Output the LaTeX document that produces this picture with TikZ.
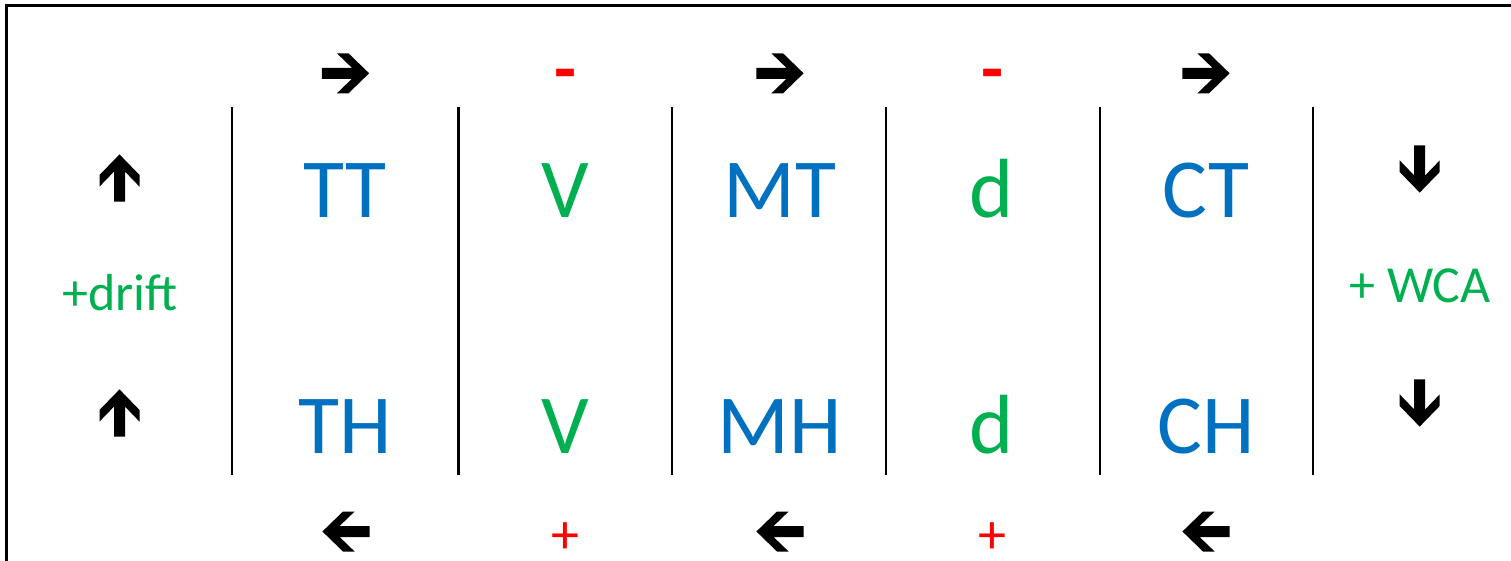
\documentclass[tikz,border=0pt]{standalone}
\usepackage{fontspec}
\setmainfont{Carlito}
\definecolor{cblue}{HTML}{0070C0}
\definecolor{cgreen}{HTML}{00B050}
\definecolor{cred}{HTML}{FF0000}
\tikzset{
  big/.style={anchor=base, inner sep=0pt, font=\fontsize{84}{84}\selectfont},
  mid/.style={anchor=base, inner sep=0pt, text=cgreen, font=\fontsize{52}{52}\selectfont},
  sign/.style={anchor=base, inner sep=0pt, text depth=0pt, text=cred},
  sep/.style={line width=2.3pt, black},
  frame/.style={line width=2.8pt, black},
  barrow/.pic={\fill[black] (-23.6,-5.5) -- (6.4,-5.5) -- (-8.6,-20) -- (3,-20) -- (23.6,0) -- (3,20) -- (-8.6,20) -- (6.4,5.5) -- (-23.6,5.5) -- cycle;}
}
\begin{document}
\begin{tikzpicture}[x=1pt,y=-1pt]
\useasboundingbox (0,0) rectangle (1511,561);
% frame
\coordinate (fbl) at (6.2,575);
\coordinate (ftl) at (6.2,5.3);
\coordinate (ftr) at (1525,5.3);
\draw[frame] (fbl) -- (ftl) -- (ftr);
% separators
\foreach \x/\n in {232/s1,458.5/s2,672/s3,886/s4,1100/s5,1313/s6}{
  \coordinate (\n t) at (\x,107);
  \coordinate (\n b) at (\x,475);
  \draw[sep] (\n t) -- (\n b);
}
% big labels
\node[big, text=cblue] (tt) at (345.5,218) {TT};
\node[big, text=cgreen] (v1) at (565,218) {V};
\node[big, text=cblue] (mt) at (780,218) {MT};
\node[big, text=cgreen] (d1) at (992,218) {d};
\node[big, text=cblue] (ct) at (1206,218) {CT};
\node[big, text=cblue] (th) at (345.5,453) {TH};
\node[big, text=cgreen] (v2) at (565,453) {V};
\node[big, text=cblue] (mh) at (780,453) {MH};
\node[big, text=cgreen] (d2) at (992,453) {d};
\node[big, text=cblue] (ch) at (1206,453) {CH};
% side labels
\node[mid] (drift) at (120,310) {+drift};
\node[mid] (wca) at (1420,302) {+ WCA};
% signs
\node[sign, font=\fontsize{72}{72}\selectfont\bfseries] (m1) at (565.5,94) {-};
\node[sign, font=\fontsize{72}{72}\selectfont\bfseries] (m2) at (992.5,94) {-};
\node[sign, font=\fontsize{56}{56}\selectfont] (p1) at (565.5,553) {+};
\node[sign, font=\fontsize{56}{56}\selectfont] (p2) at (992.5,553) {+};
% block arrows
\pic at (345.5,73.3) {barrow};
\pic at (780,73.3) {barrow};
\pic at (1206,73.3) {barrow};
\pic[rotate=180] at (346,531.5) {barrow};
\pic[rotate=180] at (780,531.5) {barrow};
\pic[rotate=180] at (1206,531.5) {barrow};
\pic[rotate=90] at (119.5,178) {barrow};
\pic[rotate=90] at (119.5,413) {barrow};
\pic[rotate=-90] at (1419.7,169) {barrow};
\pic[rotate=-90] at (1419.7,403) {barrow};
\end{tikzpicture}
\end{document}
